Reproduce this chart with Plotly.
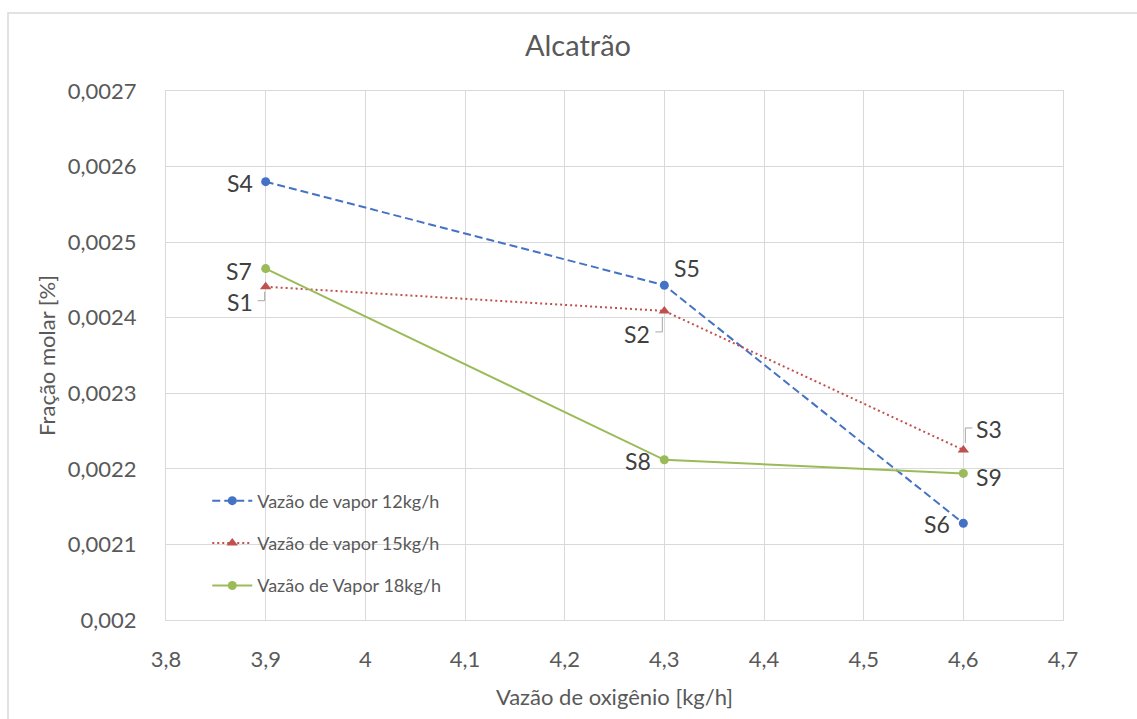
import plotly.graph_objects as go

# Oxygen flow rate [kg/h] on the x axis
vazao_oxigenio = [3.9, 4.3, 4.6]

# Tar molar fraction for each steam flow rate
vapor_12 = [0.00258, 0.002443, 0.002128]
vapor_15 = [0.002441, 0.002409, 0.002225]
vapor_18 = [0.002465, 0.002212, 0.002194]

nomes = ["Vazão de vapor 12kg/h", "Vazão de vapor 15kg/h", "Vazão de Vapor 18kg/h"]

# Sample labels per series
rotulos_12 = ["S4", "S5", "S6"]
rotulos_15 = ["S1", "S2", "S3"]
rotulos_18 = ["S7", "S8", "S9"]

x_ticks = [3.8, 3.9, 4.0, 4.1, 4.2, 4.3, 4.4, 4.5, 4.6, 4.7]
x_ticktext = ["3,8", "3,9", "4", "4,1", "4,2", "4,3", "4,4", "4,5", "4,6", "4,7"]
y_ticks = [0.002, 0.0021, 0.0022, 0.0023, 0.0024, 0.0025, 0.0026, 0.0027]
y_ticktext = ["0,002", "0,0021", "0,0022", "0,0023", "0,0024", "0,0025", "0,0026", "0,0027"]

FONT = "Lato"
TXT = "#595959"
LBL = "#404040"
GRID = "#D9D9D9"
LEADER = "#A6A6A6"

fig = go.Figure()

fig.add_trace(go.Scatter(
    x=vazao_oxigenio, y=vapor_12, name=nomes[0], mode="lines+markers",
    line=dict(color="#4472C4", width=2, dash="8px,4px"),
    marker=dict(symbol="circle", size=9, color="#4472C4"),
    legendgroup="a",
))
fig.add_trace(go.Scatter(
    x=vazao_oxigenio, y=vapor_15, name=nomes[1], mode="lines+markers",
    line=dict(color="#C0504D", width=2, dash="2px,3px"),
    marker=dict(symbol="triangle-up", size=10, color="#C0504D"),
    legendgroup="b",
))
fig.add_trace(go.Scatter(
    x=vazao_oxigenio, y=vapor_18, name=nomes[2], mode="lines+markers",
    line=dict(color="#9BBB59", width=2),
    marker=dict(symbol="circle", size=9, color="#9BBB59"),
    legendgroup="c",
))

# Label offsets (pixels, right / down) relative to each point
offs_12 = [(-26, 1), (23, -17), (-26, 1)]
offs_15 = [(-26, 15), (-27, 23), (26, -21)]
offs_18 = [(-27, 2), (-26, 1), (26, 4)]

# Elbow leader lines for the 15 kg/h labels (pixel offsets, right / up)
leaders_15 = [
    "M -8,-14 L -1,-14 L -1,-5",
    "M -9,-21 L -2,-21 L -2,-6",
    "M 2,7 L 2,22 L 9,22",
]

for ys, labs, offs in [(vapor_12, rotulos_12, offs_12),
                       (vapor_15, rotulos_15, offs_15),
                       (vapor_18, rotulos_18, offs_18)]:
    for xv, yv, lab, (dx, dy) in zip(vazao_oxigenio, ys, labs, offs):
        fig.add_annotation(
            x=xv, y=yv, text=lab, showarrow=False, xshift=dx, yshift=-dy,
            font=dict(family=FONT, size=23, color=LBL),
        )

for xv, yv, path in zip(vazao_oxigenio, vapor_15, leaders_15):
    fig.add_shape(type="path", xref="x", yref="y",
                  xsizemode="pixel", xanchor=xv,
                  ysizemode="pixel", yanchor=yv,
                  path=path, line=dict(color=LEADER, width=1))

# Outer chart frame
fig.add_shape(type="rect", xref="paper", yref="paper",
              x0=(8 - 166) / 897, x1=(1145 - 166) / 897,
              y0=(620 - 730) / 529, y1=1 + (91 - 13) / 529,
              line=dict(color="#D9D9D9", width=1.5), layer="below")

fig.update_layout(
    width=1137, height=719,
    margin=dict(l=166, r=74, t=91, b=99),
    paper_bgcolor="white", plot_bgcolor="white",
    font=dict(family=FONT, color=TXT),
    title=dict(text="Alcatrão", x=578 / 1137, xref="container", y=1 - 46 / 719,
               yref="container", xanchor="center", yanchor="middle",
               font=dict(family=FONT, size=29, color=TXT)),
    showlegend=True,
    legend=dict(x=0.046, y=0.26, xanchor="left", yanchor="top",
                bgcolor="rgba(0,0,0,0)", font=dict(family=FONT, size=18, color=TXT),
                traceorder="grouped", tracegroupgap=16, itemwidth=40),
)

fig.update_xaxes(
    range=[3.8, 4.7], tickvals=x_ticks, ticktext=x_ticktext,
    showgrid=True, gridcolor=GRID, gridwidth=1,
    showline=True, linecolor=GRID, linewidth=1, mirror=True,
    zeroline=False, ticks="", ticklabelstandoff=20,
    tickfont=dict(family=FONT, size=22, color=TXT),
    title=dict(text="Vazão de oxigênio [kg/h]", standoff=18,
               font=dict(family=FONT, size=22, color=TXT)),
)
fig.update_yaxes(
    range=[0.002, 0.0027], tickvals=y_ticks, ticktext=y_ticktext,
    showgrid=True, gridcolor=GRID, gridwidth=1,
    showline=True, linecolor=GRID, linewidth=1, mirror=True,
    zeroline=False, ticks="", ticklabelstandoff=24,
    tickfont=dict(family=FONT, size=22, color=TXT),
    title=dict(text="Fração molar [%]", standoff=6,
               font=dict(family=FONT, size=22, color=TXT)),
)

fig.write_html("out.html")
